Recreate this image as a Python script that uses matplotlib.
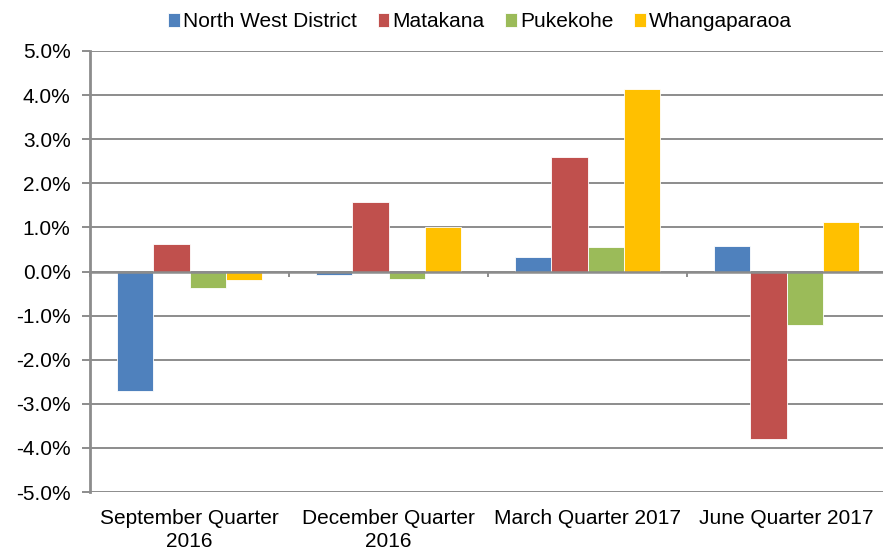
import matplotlib.pyplot as plt
import numpy as np
from matplotlib.ticker import FuncFormatter

categories = ["September Quarter\n2016", "December Quarter\n2016", "March Quarter 2017", "June Quarter 2017"]
series_names = ["North West District", "Matakana", "Pukekohe", "Whangaparaoa"]
north_west = [-2.70, -0.08, 0.32, 0.58]
matakana = [0.62, 1.58, 2.60, -3.79]
pukekohe = [-0.37, -0.17, 0.55, -1.22]
whangaparaoa = [-0.20, 1.01, 4.14, 1.12]
colors = ["#4f81bd", "#c0504d", "#9bbb59", "#ffc000"]
yticks = [-5, -4, -3, -2, -1, 0, 1, 2, 3, 4, 5]

plt.rcParams['font.family'] = ['Liberation Sans', 'DejaVu Sans']
fs = 15

fig = plt.figure(figsize=(8.83, 5.5), dpi=100)
ax = fig.add_axes([90/883, 58/550, 796/883, 441/550])

series = [north_west, matakana, pukekohe, whangaparaoa]
n = len(series)
bw = 1 / (n + 1.5)
x = np.arange(len(categories))
for i, (vals, name, c) in enumerate(zip(series, series_names, colors)):
    ax.bar(x + (i - (n - 1) / 2) * bw, vals, width=bw, color=c, label=name,
           edgecolor='white', linewidth=0.6, zorder=3)

ax.set_xlim(-0.5, len(categories) - 0.5)
ax.set_ylim(-5, 5)
ax.set_yticks(yticks)
ax.yaxis.set_major_formatter(FuncFormatter(lambda v, p: f"{v:.1f}%"))
ax.yaxis.grid(True, color='#8c8c8c', linewidth=1.4, zorder=1)
ax.axhline(0, color='#8c8c8c', linewidth=1.8, zorder=4)
# category boundary ticks on the zero line
tick_len = 0.12
ax.vlines(np.arange(0, len(categories) + 1) - 0.5, -tick_len, 0, color='#8c8c8c', linewidth=1.4, zorder=4, clip_on=False)

for s in ['top', 'right', 'bottom']:
    ax.spines[s].set_visible(False)
ax.spines['left'].set_color('#8c8c8c')
ax.spines['left'].set_linewidth(2)
ax.tick_params(axis='y', length=6, width=1.4, color='#8c8c8c', labelsize=fs, pad=8)
ax.set_xticks(x)
ax.set_xticklabels(categories, fontsize=fs, linespacing=1.3)
ax.tick_params(axis='x', length=0, pad=12)

ax.legend(loc='upper center', bbox_to_anchor=(0.49, 1.13), ncol=4, frameon=False,
          fontsize=fs, handlelength=0.55, handleheight=0.6, handletextpad=0.15, columnspacing=1.0)

fig.savefig("out.png", dpi=100)
